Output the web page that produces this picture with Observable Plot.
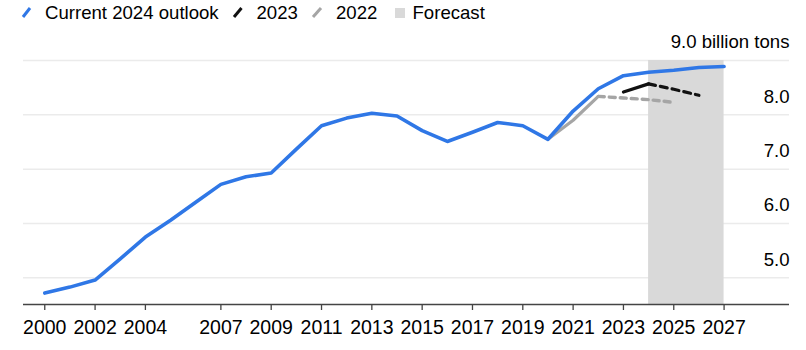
<!DOCTYPE html>
<html><head><meta charset="utf-8">
<script src="https://cdn.jsdelivr.net/npm/d3@7"></script>
<script src="https://cdn.jsdelivr.net/npm/@observablehq/plot@0.6"></script>
<style>
html,body{margin:0;padding:0;background:#fff;}
body{font-family:"Liberation Sans",Arial,sans-serif;}
svg{display:block;}
</style></head><body>
<svg id="legend" width="806" height="26" style="font-family:'Liberation Sans',Arial,sans-serif;font-size:18.6px">
  <line x1="23" y1="17" x2="30" y2="8" stroke="#2f77e6" stroke-width="3"/>
  <text x="45" y="19" fill="#000">Current 2024 outlook</text>
  <line x1="234" y1="17" x2="241.5" y2="8" stroke="#111" stroke-width="3"/>
  <text x="256.5" y="19" fill="#000">2023</text>
  <line x1="313" y1="17" x2="321" y2="8" stroke="#a5a5a5" stroke-width="3"/>
  <text x="336" y="19" fill="#000">2022</text>
  <rect x="395" y="8" width="10" height="10" fill="#d9d9d9"/>
  <text x="412.5" y="19" fill="#000">Forecast</text>
</svg>
<div id="chart"></div>
<script>
// Current 2024 outlook
const years = [2000,2001,2002,2003,2004,2005,2006,2007,2008,2009,2010,2011,2012,2013,2014,2015,2016,2017,2018,2019,2020,2021,2022,2023,2024,2025,2026,2027];
const current = [4.72,4.83,4.96,5.35,5.75,6.06,6.39,6.72,6.86,6.93,7.37,7.80,7.94,8.03,7.98,7.71,7.51,7.68,7.86,7.80,7.55,8.07,8.48,8.72,8.785,8.82,8.87,8.89];

// 2022 outlook
const years2022Solid = [2020,2021,2022];
const values2022Solid = [7.55,7.90,8.34];
const years2022Dashed = [2022,2023,2024,2025];
const values2022Dashed = [8.34,8.31,8.28,8.23];

// 2023 outlook
const years2023Solid = [2023,2024];
const values2023Solid = [8.42,8.57];
const years2023Dashed = [2024,2025,2026];
const values2023Dashed = [8.57,8.47,8.36];

// Forecast band
const forecastSpan = [2024,2027];

// Axes
const xTicks = [2000,2002,2004,2007,2009,2011,2013,2015,2017,2019,2021,2023,2025,2027];
const yTicks = [5,6,7,8,9];
const yTickLabels = ["5.0","6.0","7.0","8.0","9.0 billion tons"];
const xDomain = [1999.155, 2029.6];
const yDomain = [4.51, 9];

const toRows = (xs, vs) => xs.map((x, i) => ({year: x, value: vs[i]}));
const currentRows = toRows(years, current);
const rows2022s = toRows(years2022Solid, values2022Solid);
const rows2022d = toRows(years2022Dashed, values2022Dashed);
const rows2023s = toRows(years2023Solid, values2023Solid);
const rows2023d = toRows(years2023Dashed, values2023Dashed);
const yLabelRows = yTicks.map((v, i) => ({value: v, label: yTickLabels[i]}));

const BLUE = "#2f77e6";
const chart = Plot.plot({
  width: 806,
  height: 324,
  marginLeft: 23,
  marginRight: 17,
  marginTop: 34,
  marginBottom: 46,
  style: {fontFamily: "'Liberation Sans', Arial, sans-serif", background: "#fff", overflow: "visible"},
  x: {domain: xDomain, axis: null},
  y: {domain: yDomain, axis: null},
  marks: [
    Plot.ruleY(yTicks, {x1: xDomain[0], x2: xDomain[1], stroke: "#ebebeb", strokeWidth: 1.5}),
    Plot.rect([forecastSpan], {x1: d => d[0], x2: d => d[1], y1: yDomain[0], y2: yDomain[1], fill: "#d9d9d9"}),
    Plot.ruleY([yDomain[0]], {stroke: "#444", strokeWidth: 1.4}),
    Plot.axisX(xTicks, {anchor: "bottom", tickSize: 6, tickPadding: 10, fontSize: 19.5, stroke: "#444", strokeWidth: 1.3, fill: "#000", tickFormat: d => String(d), label: null}),
    Plot.text(yLabelRows, {x: xDomain[1], y: "value", text: "label", textAnchor: "end", dy: -18, fontSize: 18.6, fill: "#000"}),
    Plot.line(rows2022s, {x: "year", y: "value", stroke: "#a5a5a5", strokeWidth: 3.2}),
    Plot.line(rows2022d, {x: "year", y: "value", stroke: "#a5a5a5", strokeWidth: 3.4, strokeDasharray: "6,5"}),
    Plot.line(rows2023s, {x: "year", y: "value", stroke: "#111", strokeWidth: 3.2}),
    Plot.line(rows2023d, {x: "year", y: "value", stroke: "#111", strokeWidth: 3.2, strokeDasharray: "7,5"}),
    Plot.line(currentRows, {x: "year", y: "value", stroke: BLUE, strokeWidth: 3.6})
  ]
});
document.getElementById("chart").appendChild(chart);
</script>
</body></html>
